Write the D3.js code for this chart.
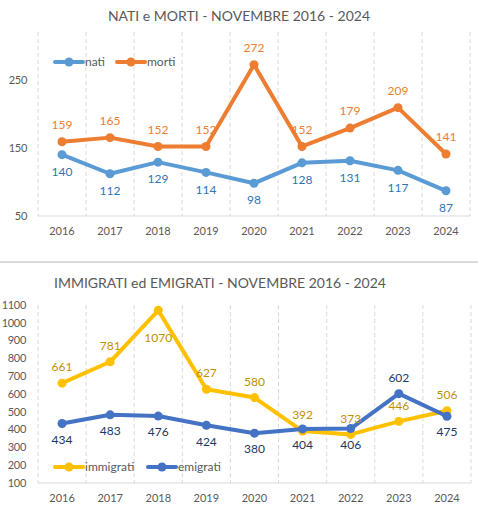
<!DOCTYPE html>
<html><head><meta charset="utf-8">
<script src="https://cdn.jsdelivr.net/npm/d3@7"></script>
<style>body{margin:0;background:#fff}svg{display:block}text{font-family:Lato,"Open Sans",sans-serif}</style>
</head><body>
<svg id="c" width="478" height="518"></svg>
<script>
const years = ["2016","2017","2018","2019","2020","2021","2022","2023","2024"];
const nati = [140,112,129,114,98,128,131,117,87];
const morti = [159,165,152,152,272,152,179,209,141];
const immigrati = [661,781,1070,627,580,392,373,446,506];
const emigrati = [434,483,476,424,380,404,406,602,475];
const ticks1 = [50,150,250];
const ticks2 = [100,200,300,400,500,600,700,800,900,1000,1100];
// label placement: +1 above, -1 below (multiples of the label offset)
const natiPos = [-1,-1,-1,-1,-1,-1,-1,-1,-1];
const mortiPos = [1,1,1,1,1,1,1,1,1];
const immPos = [1,1,-1.7,1,1,1,1,1,1];
const emiPos = [-1,-1,-1,-1,-1,-1,-1,1,-1];

const svg = d3.select("#c");
svg.append("rect").attr("width",478).attr("height",518).attr("fill","#fff");
const grey = "#595959";

function chart(cfg){
  const g = svg.append("g");
  const x = d3.scaleBand().domain(years).range(cfg.xr);
  const y = d3.scaleLinear().domain(cfg.yd).range(cfg.yr);
  g.append("text").attr("x",cfg.tx).attr("y",cfg.ty).attr("text-anchor","middle")
   .attr("font-size",14).attr("fill",grey).text(cfg.title);
  const bounds = years.map(d=>x(d)).concat([cfg.xr[1]]);
  g.selectAll(".vg").data(bounds).join("line")
   .attr("x1",d=>d).attr("x2",d=>d).attr("y1",cfg.yr[1]).attr("y2",cfg.yr[0])
   .attr("stroke","#d9d9d9").attr("stroke-width",1).attr("stroke-dasharray","4,3");
  g.append("line").attr("x1",cfg.xr[0]).attr("x2",cfg.xr[1]).attr("y1",cfg.yr[0]).attr("y2",cfg.yr[0])
   .attr("stroke","#d9d9d9").attr("stroke-width",1);
  g.selectAll(".yt").data(cfg.ticks).join("text")
   .attr("x",cfg.ylx).attr("y",d=>y(d)).attr("dy","0.35em").attr("text-anchor","end")
   .attr("font-size",11).attr("letter-spacing",-0.3).attr("fill",grey).text(d=>d);
  g.selectAll(".xt").data(years).join("text")
   .attr("x",d=>x(d)+x.bandwidth()/2).attr("y",cfg.xly).attr("dy","0.35em").attr("text-anchor","middle")
   .attr("font-size",11).attr("fill",grey).text(d=>d);
  const line = d3.line().x((d,i)=>x(years[i])+x.bandwidth()/2).y(d=>y(d));
  cfg.series.forEach(s=>{
    g.append("path").datum(s.values).attr("d",line).attr("fill","none")
     .attr("stroke",s.color).attr("stroke-width",4).attr("stroke-linejoin","round").attr("stroke-linecap","round");
    g.selectAll(null).data(s.values).join("circle")
     .attr("cx",(d,i)=>x(years[i])+x.bandwidth()/2).attr("cy",d=>y(d)).attr("r",4.5).attr("fill",s.color);
  });
  cfg.series.forEach(s=>{
    g.selectAll(null).data(s.values).join("text")
     .attr("x",(d,i)=>x(years[i])+x.bandwidth()/2).attr("y",(d,i)=>y(d)-s.pos[i]*cfg.off)
     .attr("dy","0.35em").attr("text-anchor","middle").attr("font-size",12).attr("fill",s.label).text(d=>d);
  });
  cfg.series.forEach((s,i)=>{
    const lx = cfg.legx[i], ly = cfg.legy;
    g.append("line").attr("x1",lx).attr("x2",lx+28).attr("y1",ly).attr("y2",ly)
     .attr("stroke",s.color).attr("stroke-width",4).attr("stroke-linecap","round");
    g.append("circle").attr("cx",lx+14).attr("cy",ly).attr("r",4.5).attr("fill",s.color);
    g.append("text").attr("x",lx+30).attr("y",ly).attr("dy","0.35em").attr("font-size",12).attr("fill",grey).text(s.name);
  });
}

chart({title:"NATI e MORTI - NOVEMBRE 2016 - 2024", tx:239, ty:21,
  xr:[38,470], yd:[50,320], yr:[216,32], ticks:ticks1, ylx:27, xly:231, off:17,
  legx:[55,117], legy:62,
  series:[
    {name:"nati", values:nati, color:"#5B9BD5", label:"#2E75B6", pos:natiPos},
    {name:"morti", values:morti, color:"#ED7D31", label:"#ED7D31", pos:mortiPos}
  ]});

svg.append("line").attr("x1",0).attr("x2",478).attr("y1",262).attr("y2",262).attr("stroke","#d9d9d9").attr("stroke-width",2);

chart({title:"IMMIGRATI ed EMIGRATI - NOVEMBRE 2016 - 2024", tx:220, ty:288,
  xr:[38,471], yd:[100,1100], yr:[483,305], ticks:ticks2, ylx:26, xly:498, off:16,
  legx:[55,148], legy:467,
  series:[
    {name:"immigrati", values:immigrati, color:"#FFC000", label:"#BF9000", pos:immPos},
    {name:"emigrati", values:emigrati, color:"#4472C4", label:"#203864", pos:emiPos}
  ]});
</script>
</body></html>
